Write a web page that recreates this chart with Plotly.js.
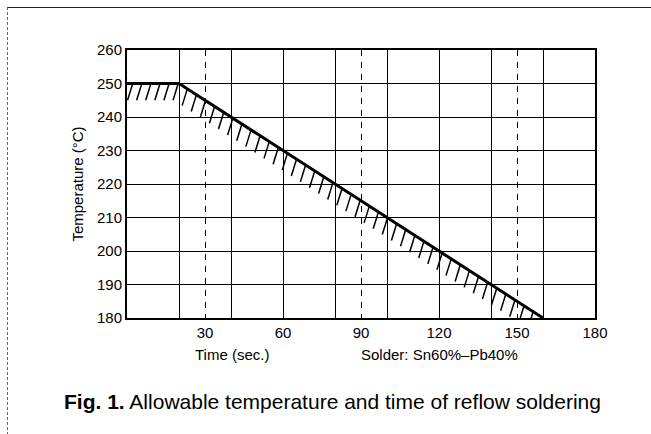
<!DOCTYPE html>
<html>
<head>
<meta charset="utf-8">
<script src="https://cdn.plot.ly/plotly-3.0.1.min.js"></script>
<style>
  html, body { margin: 0; padding: 0; background: #fff; }
  #frame { position: absolute; left: 7px; top: 7px; width: 644px; height: 427px;
           border-top: 1px solid #222; border-left: 1px dashed #666; }
  #chart { position: absolute; left: 0; top: 0; width: 651px; height: 434px; }
</style>
</head>
<body>
<div id="frame"></div>
<div id="chart"></div>
<script>
// Allowable reflow profile (Sn60%-Pb40%)
const timeSec = [0, 20, 160];
const tempC   = [250, 250, 180];

const xTickVals   = [30, 60, 90, 120, 150, 180];
const xTickText   = ['30', '60', '90', '120', '150', '180'];
const xSolidGrid  = [20, 40, 60, 80, 100, 120, 140, 160];
const xDashGrid   = [30, 90, 150];
const yTickVals   = [180, 190, 200, 210, 220, 230, 240, 250, 260];

// Hatch decoration below the limit line (derived from the line itself)
function lineY(x) {
  for (let i = 0; i < timeSec.length - 1; i++) {
    if (x >= timeSec[i] && x <= timeSec[i + 1]) {
      const t = (x - timeSec[i]) / (timeSec[i + 1] - timeSec[i]);
      return tempC[i] + t * (tempC[i + 1] - tempC[i]);
    }
  }
  return null;
}
const hx = [], hy = [];
const step = 3.5, dxH = -2.0, dyH = -5.0;
for (let x = timeSec[0] + 2.2; x <= timeSec[timeSec.length - 1]; x += step) {
  const y = lineY(x);
  hx.push(x, x + dxH, null);
  hy.push(y, y + dyH, null);
}

const font = 'Liberation Sans, Arial, Helvetica, sans-serif';

const traces = [
  { x: hx, y: hy, mode: 'lines', line: { color: '#000', width: 1.5 },
    hoverinfo: 'skip', showlegend: false, connectgaps: false },
  { x: timeSec, y: tempC, mode: 'lines', line: { color: '#000', width: 3 },
    showlegend: false },
  { x: [], y: [], xaxis: 'x2', yaxis: 'y', showlegend: false },
  { x: [], y: [], xaxis: 'x3', yaxis: 'y', showlegend: false }
];

const layout = {
  width: 651, height: 434,
  margin: { l: 127, r: 56, t: 50, b: 116 },
  paper_bgcolor: 'rgba(0,0,0,0)',
  plot_bgcolor: 'rgba(0,0,0,0)',
  font: { family: font, size: 15, color: '#000' },
  xaxis: {
    range: [0, 180], tickmode: 'array', tickvals: xTickVals, ticktext: xTickText,
    showgrid: false, zeroline: false, showline: true, mirror: true,
    linecolor: '#000', linewidth: 2, ticks: '', ticklen: 0,
    tickfont: { size: 15, family: font }
  },
  xaxis2: {
    overlaying: 'x', range: [0, 180], tickmode: 'array', tickvals: xSolidGrid,
    showticklabels: false, showgrid: true, gridcolor: '#000', gridwidth: 1,
    zeroline: false, showline: false, ticks: ''
  },
  xaxis3: {
    overlaying: 'x', range: [0, 180], tickmode: 'array', tickvals: xDashGrid,
    showticklabels: false, showgrid: true, gridcolor: '#000', gridwidth: 1,
    griddash: '6px,6px', zeroline: false, showline: false, ticks: ''
  },
  yaxis: {
    range: [180, 260], tickmode: 'array', tickvals: yTickVals,
    showgrid: true, gridcolor: '#000', gridwidth: 1,
    zeroline: false, showline: true, mirror: true, linecolor: '#000', linewidth: 2,
    ticks: '', ticklen: 0,
    tickfont: { size: 15, family: font },
    title: { text: 'Temperature (°C)', font: { size: 15, family: font }, standoff: 10 }
  },
  annotations: [
    { text: 'Time (sec.)', xref: 'x', yref: 'paper', x: 40.5, y: -0.135,
      showarrow: false, xanchor: 'center', yanchor: 'middle',
      font: { size: 15, family: font } },
    { text: 'Solder: Sn60%–Pb40%', xref: 'x', yref: 'paper', x: 120, y: -0.135,
      showarrow: false, xanchor: 'center', yanchor: 'middle',
      font: { size: 15, family: font } },
    { text: '<b>Fig. 1.</b> Allowable temperature and time of reflow soldering',
      xref: 'paper', yref: 'paper', x: 0.44, y: -0.31, xanchor: 'center', yanchor: 'middle',
      showarrow: false, font: { size: 21, family: font } }
  ]
};

Plotly.newPlot('chart', traces, layout, { displayModeBar: false, staticPlot: true });
</script>
</body>
</html>
